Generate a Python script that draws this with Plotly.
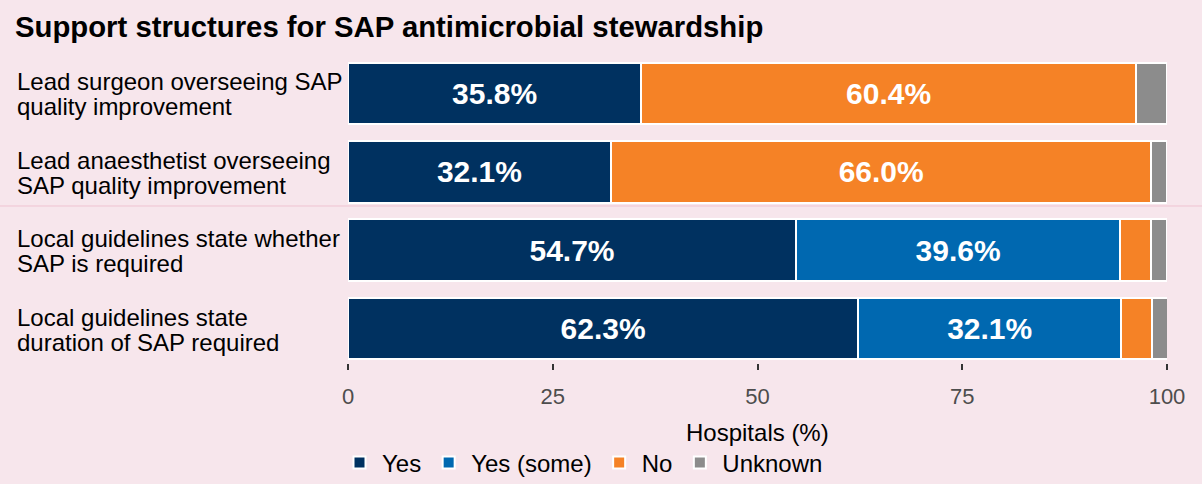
import plotly.graph_objects as go

categories = [
    "Lead surgeon overseeing SAP<br>quality improvement",
    "Lead anaesthetist overseeing<br>SAP quality improvement",
    "Local guidelines state whether<br>SAP is required",
    "Local guidelines state<br>duration of SAP required",
]
series_names = ["Yes", "Yes (some)", "No", "Unknown"]
yes = [35.8, 32.1, 54.7, 62.3]
yes_some = [0.0, 0.0, 39.6, 32.1]
no = [60.4, 66.0, 3.8, 3.8]
unknown = [3.8, 1.9, 1.9, 1.9]
x_ticks = [0, 25, 50, 75, 100]
x_title = "Hospitals (%)"

colors = {"Yes": "#003160", "Yes (some)": "#0068B0", "No": "#F58226", "Unknown": "#8C8C8C"}
values = {"Yes": yes, "Yes (some)": yes_some, "No": no, "Unknown": unknown}

BG = "#F7E6EC"
FONT = "Liberation Sans, Arial, sans-serif"

fig = go.Figure()
for name in series_names:
    vals = values[name]
    texts = [f"{v:.1f}%" if v >= 10 else "" for v in vals]
    fig.add_trace(go.Bar(
        y=categories, x=vals, name=name, orientation="h",
        marker=dict(color=colors[name], line=dict(color="white", width=2)),
        text=texts, textposition="inside", insidetextanchor="middle",
        textfont=dict(color="white", size=30, family=FONT, weight="bold"),
        constraintext="none", cliponaxis=False,
    ))

L, R, T, B = 348, 35, 59, 121
W, H = 1202, 484
plot_w = W - L - R
plot_h = H - T - B

# left-aligned category labels
for i, cat in enumerate(categories):
    lines = cat.split("<br>")
    n = len(lines)
    for j, line in enumerate(lines):
        fig.add_annotation(
            text=line, xref="paper", yref="y", x=-(L - 15) / plot_w, y=cat,
            xanchor="left", yanchor="middle", showarrow=False, align="left",
            yshift=(n - 1) / 2 * 25 - j * 25 - 1,
            font=dict(size=24, color="black", family=FONT),
        )

# x-axis title
fig.add_annotation(
    text=x_title, xref="paper", yref="paper", x=0.5, y=-(432 - (H - B)) / plot_h,
    xanchor="center", yanchor="middle", showarrow=False,
    font=dict(size=24, color="black", family=FONT),
)

# faint separator line
fig.add_shape(type="line", xref="paper", yref="paper",
              x0=-L / plot_w, x1=(W - L) / plot_w,
              y0=1 - (206 - T) / plot_h, y1=1 - (206 - T) / plot_h,
              line=dict(color="#EFC3D1", width=1))

fig.update_layout(
    barmode="stack", bargap=0.213,
    width=W, height=H, autosize=False,
    paper_bgcolor=BG, plot_bgcolor=BG,
    margin=dict(l=L, r=R, t=T, b=B, pad=0, autoexpand=False),
    font=dict(family=FONT, color="black"),
    title=dict(text="<b>Support structures for SAP antimicrobial stewardship</b>",
               x=15 / W, xref="container", xanchor="left",
               y=1 - 27 / H, yref="container", yanchor="middle",
               font=dict(size=29.3, color="black", family=FONT)),
    showlegend=True,
    legend=dict(orientation="h", x=-11 / plot_w, xanchor="left",
                y=1 - 463 / H, yref="container", yanchor="middle",
                font=dict(size=24, color="black", family=FONT),
                traceorder="normal", bgcolor="rgba(0,0,0,0)",
                itemwidth=35, tracegroupgap=0),
    xaxis=dict(range=[0, 100], tickvals=x_ticks, showgrid=False, zeroline=False,
               showline=False, ticks="outside", ticklen=6, tickwidth=2, tickcolor="#333333",
               ticklabelstandoff=8, automargin=False,
               tickfont=dict(size=22, color="#4D4D4D", family=FONT)),
    yaxis=dict(range=[3.44, -0.44], showticklabels=False, showgrid=False, automargin=False,
               zeroline=False, showline=False, ticks=""),
)

fig.write_html(
    "out.html",
    config={"displayModeBar": False, "responsive": False},
    post_script="document.body.style.margin='0';document.body.style.padding='0';"
                "document.body.style.overflow='hidden';document.body.style.background='%s';" % BG,
)
